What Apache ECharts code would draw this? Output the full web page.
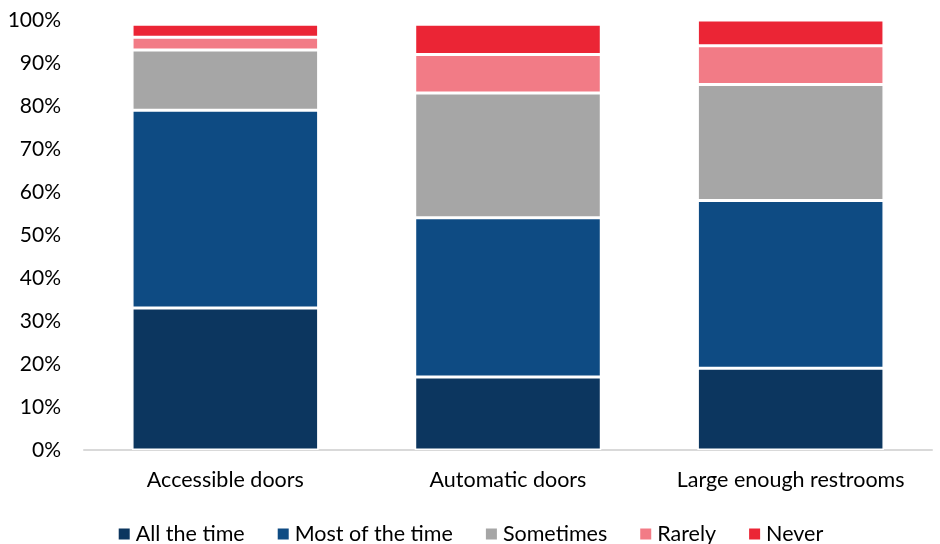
<!DOCTYPE html>
<html><head><meta charset="utf-8">
<script src="https://cdn.jsdelivr.net/npm/echarts@6/dist/echarts.min.js"></script>
<style>html,body{margin:0;padding:0;background:#fff}#c{width:940px;height:544px}</style>
</head><body><div id="c"></div>
<script>
const categories = ['Accessible doors', 'Automatic doors', 'Large enough restrooms'];
const seriesNames = ['All the time', 'Most of the time', 'Sometimes', 'Rarely', 'Never'];
const allTheTime = [33, 17, 19];
const mostOfTheTime = [46, 37, 39];
const sometimes = [14, 29, 27];
const rarely = [3, 9, 9];
const never = [3, 7, 6];
const colors = ['#0C365F', '#0E4B83', '#A6A6A6', '#F27B86', '#EB2535'];
const values = [allTheTime, mostOfTheTime, sometimes, rarely, never];
const FONT = 'Lato';

const chart = echarts.init(document.getElementById('c'));
chart.setOption({
  animation: false,
  textStyle: {fontFamily: FONT},
  grid: {left: 84, right: 8, top: 20, bottom: 94, containLabel: false},
  legend: {
    data: seriesNames, bottom: -6, left: 'center', icon: 'rect',
    itemWidth: 13, itemHeight: 13, itemGap: 31,
    textStyle: {fontFamily: FONT, fontSize: 21.5, color: '#000'}
  },
  xAxis: {
    type: 'category', data: categories,
    axisLine: {lineStyle: {color: '#D9D9D9', width: 2}},
    axisTick: {show: false},
    axisLabel: {interval: 0, hideOverlap: false, fontFamily: FONT, fontSize: 21.5, color: '#000', margin: 19}
  },
  yAxis: {
    type: 'value', min: 0, max: 100, interval: 10,
    axisLabel: {formatter: '{value}%', fontFamily: FONT, fontSize: 21, color: '#000', margin: 23},
    splitLine: {show: false}, axisLine: {show: false}, axisTick: {show: false}
  },
  series: seriesNames.map((n, i) => ({
    name: n, type: 'bar', stack: 'total', data: values[i],
    barCategoryGap: '34%',
    itemStyle: {color: colors[i], borderColor: '#fff', borderWidth: 1.5}
  }))
});
</script></body></html>
